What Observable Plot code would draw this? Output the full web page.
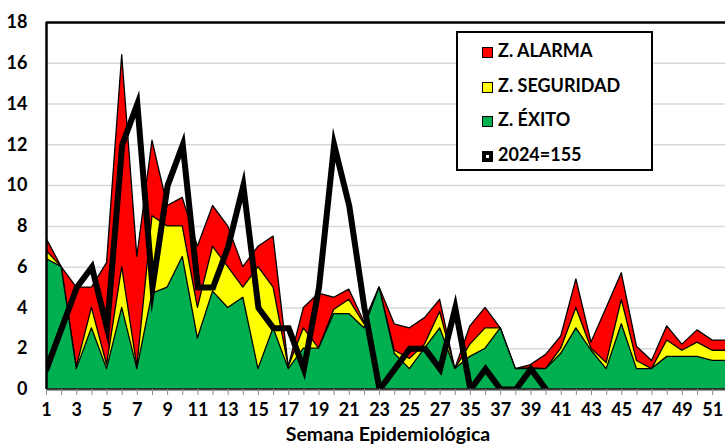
<!DOCTYPE html>
<html><head><meta charset="utf-8">
<script src="https://cdn.jsdelivr.net/npm/d3@7"></script>
<script src="https://cdn.jsdelivr.net/npm/@observablehq/plot@0.6"></script>
<style>
body{margin:0;background:#fff;}
#wrap{position:relative;width:725px;height:444px;overflow:hidden;font-family:Lato,"DejaVu Sans",sans-serif;font-weight:bold;}
#legend{position:absolute;left:456px;top:31px;width:197px;height:140px;border:2px solid #000;background:#fff;box-sizing:border-box;}
.row{position:absolute;left:24px;height:20px;line-height:20px;font-size:18px;color:#000;white-space:nowrap;}
.sw{display:inline-block;width:11px;height:11px;border:1.5px solid #000;box-sizing:border-box;margin-right:5px;vertical-align:-1px;}
#xtitle{position:absolute;left:0;width:776px;text-align:center;top:424px;font-size:19.5px;line-height:19px;color:#000;}
</style>
</head><body>
<div id="wrap"><div id="chart"></div><div id="legend"></div><div id="xtitle">Semana Epidemiológica</div></div>
<script>
const weeks = [1,2,3,4,5,6,7,8,9,10,11,12,13,14,15,16,17,18,19,20,21,22,23,24,25,26,27,28,35,36,37,38,39,40,41,42,43,44,45,46,47,48,49,50,51,52];
const exito =     [6.4,6,1,3,1,4,1,4.7,5,6.5,2.5,4.8,4,4.5,1,3,1,2,2,3.7,3.7,3,5,1.75,1,2,3,1,1.6,2,3,1,1,1,1.75,3,1.9,1,3.2,1,1,1.6,1.6,1.6,1.4,1.4];
const seguridad = [6.8,6,1.1,4,1.2,6,1.1,8.5,8,8,4,7,6,5,6,5,1.1,3,2,3.9,4.4,3.2,5,1.9,1.5,2.2,3.8,1,2.2,3,3,1,1.05,1,2,4,2,1.3,4.4,1.4,1,2.4,1.9,2.3,1.9,1.9];
const alarma =    [7.4,6,5,5,6.2,16.4,6.5,12.2,9,9.4,7,9,8,6,7,7.5,1.1,4,4.7,4.5,4.9,3.3,5,3.2,3,3.5,4.4,1,3.1,4,3,1,1.2,1.7,2.6,5.4,2.3,4,5.7,2.1,1.4,3.1,2.2,2.9,2.4,2.4];
const casos2024 = [1,3,5,6,3,12,14,5,10,12,5,5,7,10,4,3,3,1,5,12,9,4,0,1,2,2,1,4,0,1,0,0,1,0];
const yTicks = [0,2,4,6,8,10,12,14,16,18];
const legendLabels = ["Z. ALARMA","Z. SEGURIDAD","Z. ÉXITO","2024=155"];
const legendColors = ["#ff0000","#ffff00","#00b050","#000000"];

const rows = weeks.map((w,i)=>({i, w, exito:exito[i], seguridad:seguridad[i], alarma:alarma[i]}));
const line = casos2024.map((v,i)=>({i, v}));
const idx = weeks.map((w,i)=>i);

const chart = Plot.plot({
  width:725, height:444, marginLeft:46, marginRight:0, marginTop:22, marginBottom:55,
  x:{type:"linear", domain:[0, 44.85]},
  y:{domain:[0,18]},
  style:{fontFamily:"Lato, 'DejaVu Sans', sans-serif", fontWeight:"bold", fontSize:"17px", background:"white", color:"#000", overflow:"hidden"},
  marks:[
    Plot.gridY(yTicks.filter(t=>t>0&&t<18), {stroke:"#d9d9d9", strokeOpacity:1, strokeWidth:1.5}),
    Plot.areaY(rows,{x:"i", y:"alarma", fill:"#ff0000", stroke:"#000", strokeWidth:1.3, clip:true}),
    Plot.areaY(rows,{x:"i", y:"seguridad", fill:"#ffff00", stroke:"#000", strokeWidth:1.3, clip:true}),
    Plot.areaY(rows,{x:"i", y:"exito", fill:"#00b050", stroke:"#000", strokeWidth:1.3, clip:true}),
    Plot.line(line,{x:"i", y:"v", stroke:"#000", strokeWidth:6, strokeLinejoin:"miter", strokeMiterlimit:10, clip:true}),
    Plot.ruleY([0], {stroke:"#404040", strokeWidth:2}),
    Plot.ruleY([18], {stroke:"#000", strokeWidth:2.5}),
    Plot.ruleX([0], {stroke:"#000", strokeWidth:2.5}),
    Plot.axisY({ticks:yTicks, tickSize:0, tickPadding:19, fontSize:18, fontWeight:"bold", label:null}),
    Plot.axisX({ticks:idx, tickSize:6, tickPadding:8, stroke:"#8c8c8c", fontSize:18, fontWeight:"bold", tickFormat:i => i%2===0 ? String(weeks[i]) : "", label:null})
  ]
});
document.getElementById("chart").appendChild(chart);

const leg = document.getElementById("legend");
legendLabels.forEach((lab,k)=>{
  const r = document.createElement("div");
  r.className = "row";
  r.style.top = (7 + k*34.7) + "px";
  const sw = document.createElement("span");
  sw.className = "sw";
  sw.style.background = legendColors[k];
  if (k===3) { sw.style.boxShadow = "inset 0 0 0 3px #000"; sw.style.background = "#fff"; sw.style.border="1.5px solid #000"; }
  r.appendChild(sw);
  r.appendChild(document.createTextNode(lab));
  leg.appendChild(r);
});
</script>
</body></html>
